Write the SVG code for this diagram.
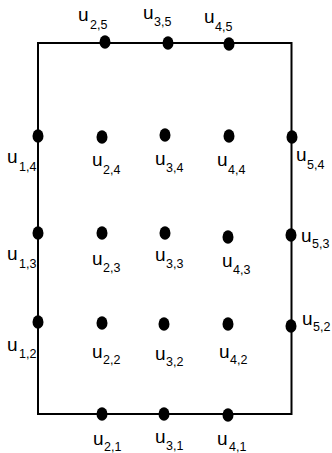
<svg xmlns="http://www.w3.org/2000/svg" width="332" height="453" viewBox="0 0 332 453">
<style>
.u{font-family:"Liberation Sans",Arial,sans-serif;font-size:19px;fill:#000}
.s{font-size:12.5px}
.d{fill:#000}
.frame{fill:none;stroke:#000;stroke-width:2}
</style>
<rect width="332" height="453" fill="#fff"/>
<g id="connectors">
<path class="frame" d="M38,414 V43 H291.5 V414 Z"/>
</g>
<g id="u25"><ellipse class="d" cx="105" cy="42" rx="5.5" ry="6.8"/><text class="u" x="78" y="21">u<tspan class="s" x="90" y="29">2,5</tspan></text></g>
<g id="u35"><ellipse class="d" cx="168" cy="43" rx="5.5" ry="6.8"/><text class="u" x="143" y="19">u<tspan class="s" x="154" y="26">3,5</tspan></text></g>
<g id="u45"><ellipse class="d" cx="229" cy="44" rx="5.5" ry="6.8"/><text class="u" x="204" y="23">u<tspan class="s" x="215" y="31">4,5</tspan></text></g>
<g id="u14"><ellipse class="d" cx="38" cy="136" rx="5.5" ry="6.8"/><text class="u" x="7" y="163">u<tspan class="s" x="19" y="171">1,4</tspan></text></g>
<g id="u24"><ellipse class="d" cx="102" cy="137" rx="5.5" ry="6.8"/><text class="u" x="92" y="166">u<tspan class="s" x="103" y="174">2,4</tspan></text></g>
<g id="u34"><ellipse class="d" cx="165" cy="135" rx="5.5" ry="6.8"/><text class="u" x="155" y="165">u<tspan class="s" x="166" y="172">3,4</tspan></text></g>
<g id="u44"><ellipse class="d" cx="229" cy="136" rx="5.5" ry="6.8"/><text class="u" x="217" y="166">u<tspan class="s" x="228" y="174">4,4</tspan></text></g>
<g id="u54"><ellipse class="d" cx="292" cy="137" rx="5.5" ry="6.8"/><text class="u" x="296" y="161">u<tspan class="s" x="307" y="169">5,4</tspan></text></g>
<g id="u13"><ellipse class="d" cx="38" cy="233" rx="5.5" ry="6.8"/><text class="u" x="7" y="260">u<tspan class="s" x="19" y="268">1,3</tspan></text></g>
<g id="u23"><ellipse class="d" cx="102" cy="233" rx="5.5" ry="6.8"/><text class="u" x="92" y="265">u<tspan class="s" x="103" y="272">2,3</tspan></text></g>
<g id="u33"><ellipse class="d" cx="165" cy="233" rx="5.5" ry="6.8"/><text class="u" x="155" y="261">u<tspan class="s" x="166" y="268">3,3</tspan></text></g>
<g id="u43"><ellipse class="d" cx="228" cy="237" rx="5.5" ry="6.8"/><text class="u" x="222" y="267">u<tspan class="s" x="233" y="274">4,3</tspan></text></g>
<g id="u53"><ellipse class="d" cx="291" cy="235" rx="5.5" ry="6.8"/><text class="u" x="301" y="242">u<tspan class="s" x="312" y="248">5,3</tspan></text></g>
<g id="u12"><ellipse class="d" cx="38" cy="322" rx="5.5" ry="6.8"/><text class="u" x="7" y="351">u<tspan class="s" x="19" y="358">1,2</tspan></text></g>
<g id="u22"><ellipse class="d" cx="102" cy="323" rx="5.5" ry="6.8"/><text class="u" x="92" y="358">u<tspan class="s" x="103" y="364">2,2</tspan></text></g>
<g id="u32"><ellipse class="d" cx="164" cy="324" rx="5.5" ry="6.8"/><text class="u" x="155" y="360">u<tspan class="s" x="166" y="366">3,2</tspan></text></g>
<g id="u42"><ellipse class="d" cx="228" cy="324" rx="5.5" ry="6.8"/><text class="u" x="219" y="358">u<tspan class="s" x="230" y="364">4,2</tspan></text></g>
<g id="u52"><ellipse class="d" cx="291" cy="326" rx="5.5" ry="6.8"/><text class="u" x="302" y="325">u<tspan class="s" x="313" y="331">5,2</tspan></text></g>
<g id="u21"><ellipse class="d" cx="102" cy="414" rx="5.5" ry="6.8"/><text class="u" x="93" y="445">u<tspan class="s" x="104" y="451">2,1</tspan></text></g>
<g id="u31"><ellipse class="d" cx="164" cy="414" rx="5.5" ry="6.8"/><text class="u" x="155" y="443">u<tspan class="s" x="166" y="450">3,1</tspan></text></g>
<g id="u41"><ellipse class="d" cx="228" cy="415" rx="5.5" ry="6.8"/><text class="u" x="217" y="445">u<tspan class="s" x="229" y="451">4,1</tspan></text></g>
</svg>
